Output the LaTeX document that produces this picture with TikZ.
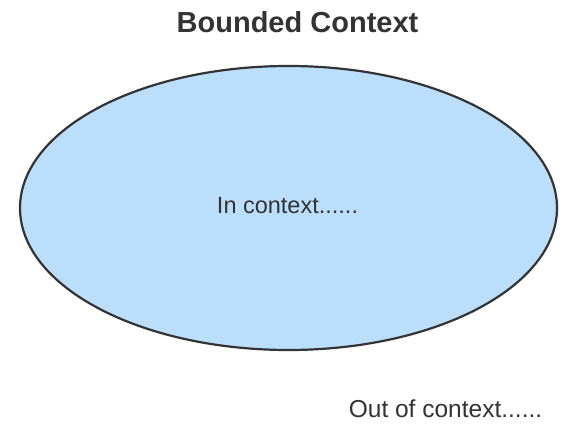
\documentclass[tikz,border=0pt]{standalone}
\usepackage{fontspec}
\setmainfont{Liberation Sans}
\usetikzlibrary{shapes.geometric}
\definecolor{ink}{HTML}{333333}
\definecolor{ctxfill}{HTML}{BBDEFB}
\begin{document}
\begin{tikzpicture}[x=1pt,y=-1pt,
  title/.style={font=\fontsize{29}{32}\selectfont\bfseries, text=ink, inner sep=0pt, anchor=base},
  label/.style={font=\fontsize{23.5}{26}\selectfont, text=ink, inner sep=0pt, anchor=base},
  ctx/.style={ellipse, draw=ink, line width=2.2pt, fill=ctxfill, minimum width=537pt, minimum height=284pt, inner sep=0pt}]
\useasboundingbox (0,0) rectangle (577,435);
\node[ctx] (bc) at (288.5,208) {};
\node[title] (t) at (297.5,33) {Bounded Context};
\node[label] (in) at (287.5,214) {In context......};
\node[label, font=\fontsize{24.5}{27}\selectfont] (out) at (445.5,417) {Out of context......};
\end{tikzpicture}
\end{document}
